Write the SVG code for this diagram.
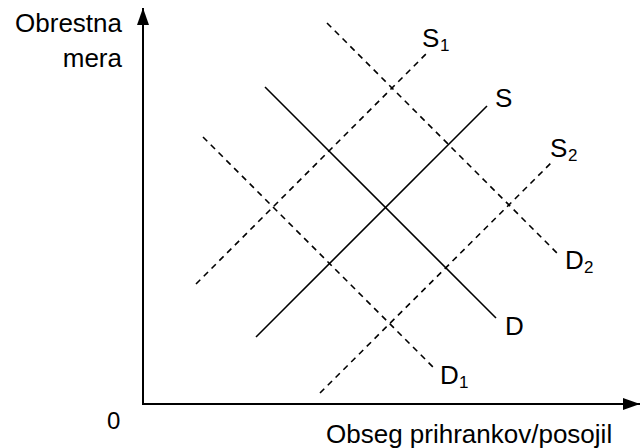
<svg xmlns="http://www.w3.org/2000/svg" width="640" height="448" viewBox="0 0 640 448">
<style>
text{font-family:"Liberation Sans",Arial,sans-serif;fill:#000}
.lbl{font-size:26px}
.sub{font-size:17px}
.solid{stroke:#000;stroke-width:1.6;fill:none}
.dash{stroke:#000;stroke-width:1.6;fill:none;stroke-dasharray:6,5}
.axis{stroke:#000;stroke-width:2;fill:none}
</style>
<defs>
<marker id="ah" markerWidth="17" markerHeight="12" refX="17" refY="6" orient="auto" markerUnits="userSpaceOnUse">
<path d="M0,0 L17,6 L0,12 Z" fill="#000"/>
</marker>
</defs>
<g id="axes">
<line class="axis" x1="143" y1="404" x2="143" y2="8" marker-end="url(#ah)"/>
<line class="axis" x1="142" y1="404" x2="640" y2="404" marker-end="url(#ah)"/>
<text class="lbl" x="122" y="32" text-anchor="end">Obrestna</text>
<text class="lbl" x="122" y="67" text-anchor="end">mera</text>
<text x="107" y="429" style="font-size:24px">0</text>
<text class="lbl" x="326" y="443">Obseg prihrankov/posojil</text>
</g>
<g id="connectors">
<line id="D" class="solid" x1="265" y1="87" x2="496" y2="318"/>
<line id="S" class="solid" x1="256" y1="337" x2="487" y2="106"/>
<line id="D1" class="dash" x1="203" y1="137" x2="433" y2="367"/>
<line id="D2" class="dash" x1="327" y1="23" x2="558" y2="254"/>
<line id="S1" class="dash" x1="196" y1="284" x2="427" y2="53"/>
<line id="S2" class="dash" x1="320" y1="393" x2="552" y2="162"/>
</g>
<g id="label-S1"><text class="lbl" x="422" y="47">S</text><text class="sub" x="440" y="51">1</text></g>
<g id="label-S"><text class="lbl" x="495" y="107">S</text></g>
<g id="label-S2"><text class="lbl" x="550" y="157">S</text><text class="sub" x="568" y="161">2</text></g>
<g id="label-D"><text class="lbl" x="505" y="335">D</text></g>
<g id="label-D1"><text class="lbl" x="440" y="384">D</text><text class="sub" x="459" y="388">1</text></g>
<g id="label-D2"><text class="lbl" x="565" y="269">D</text><text class="sub" x="584" y="273">2</text></g>
</svg>
